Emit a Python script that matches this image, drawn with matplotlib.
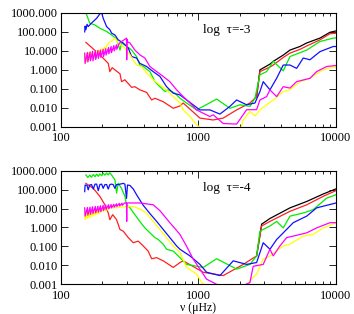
import matplotlib
matplotlib.use('Agg')
import matplotlib.pyplot as plt
from matplotlib.ticker import FixedLocator, FixedFormatter, LogLocator, NullFormatter

# ---- log tau = -3 (top panel) ----
f_r3 = [152, 192, 221, 227, 236, 269, 276, 292, 327, 345, 375, 420, 457, 483, 555, 656, 734, 775,
        1025, 1281, 1515, 1896, 2369, 2650, 2801, 3311, 3499, 4138, 4630, 5473, 6124, 7648, 9045, 10000]
red_3 = [28, 6.2, 2.2, 0.81, 1.3, 0.62, 0.24, 0.30, 0.12, 0.13, 0.089, 0.065, 0.026, 0.032, 0.021, 0.0095, 0.0126, 0.018,
         0.0029, 0.0023, 0.0029, 0.0078, 0.018, 0.039, 0.81, 1.4, 1.8, 4.5, 7.6, 12, 18, 38, 80, 85]

f_k3 = [2650, 2801, 3311, 3499, 4138, 4630, 5473, 6124, 7648, 9045, 10000]
black_3 = [0.039, 1.0, 2.0, 2.8, 6.0, 11, 17, 26, 47, 95, 112]

f_g3 = [149, 162, 177, 192, 215, 234, 254, 269, 276, 300, 327, 355, 375, 397, 444, 483, 510, 571, 603, 675,
        734, 821, 970, 1084, 1357, 1695, 2004, 2369, 2576, 2801, 3133, 3499, 4138, 4630, 6124, 7648, 9559, 10000]
green_3 = [1500, 290, 230, 155, 105, 69, 42, 11, 26, 18, 11, 5.0, 1.8, 1.5, 0.81, 0.24, 0.16, 0.072, 0.089, 0.059,
           0.032, 0.018, 0.0078, 0.012, 0.029, 0.0095, 0.0145, 0.012, 0.032, 0.55, 0.81, 2.8, 0.89, 5.0, 11, 31, 47, 48]

f_b3 = [149, 150, 152, 155, 158, 167, 182, 192, 198, 203, 215, 227, 234, 247, 261, 284, 309, 327, 355, 375,
        420, 469, 525, 587, 656, 734, 821, 1025, 1212, 1434, 1695, 1896, 2242, 2576, 2801, 2960, 3311, 3705, 4138, 4630,
        5179, 5784, 6471, 7648, 9559, 10000]
blue_3 = [100, 200, 130, 250, 190, 290, 520, 890, 1000, 520, 190, 130, 85, 69, 38, 26, 14, 5.0, 4.2, 2.2,
          1.5, 0.81, 0.45, 0.13, 0.059, 0.048, 0.026, 0.0078, 0.0078, 0.0047, 0.012, 0.026, 0.0145, 0.018, 0.072, 0.24, 0.089, 0.36, 1.8, 1.8,
          1.2, 4.2, 3.4, 9.1, 17, 17]

f_y3 = [149, 150, 154, 155, 159, 160, 164, 165, 170, 171, 176, 177, 182, 183, 188, 189, 195, 196, 202, 203,
        209, 210, 217, 226, 240, 247, 261, 284, 318, 355, 386, 420, 469, 525, 587, 656, 734, 775, 868, 970,
        1055, 1281, 1695, 2004, 2118, 2369, 2576, 2801, 3133, 3499, 4138, 4630, 5473, 6471, 7648, 8557, 10000]
yellow_3 = [7.0, 2.2, 7.5, 2.8, 8.0, 3.2, 8.5, 3.5, 9.0, 4.0, 9.5, 4.5, 10, 5.5, 11, 6.5, 12, 8.0, 14, 9.5,
            16, 12, 21, 28, 38, 47, 26, 17, 6.2, 1.8, 1.5, 0.68, 0.30, 0.16, 0.089, 0.039, 0.018, 0.0078, 0.0035, 0.0013,
            0.0008, 0.0003, 0.0002, 0.0006, 0.0023, 0.0065, 0.0038, 0.0078, 0.0145, 0.026, 0.072, 0.089, 0.24, 0.36, 0.81, 1.2, 1.4]

f_m3 = [149, 150, 156, 157, 163, 164, 170, 171, 178, 179, 186, 187, 194, 195, 203, 204, 212, 213, 222, 223,
        232, 233, 243, 244, 254, 255, 266, 276, 288, 300, 301, 303, 305, 318, 345, 375, 408, 444, 497, 555,
        620, 694, 775, 868, 970, 1084, 1212, 1281, 1515, 1896, 2242, 2650, 2801, 3133, 3311, 3705, 4138, 4630, 5179, 6471,
        7237, 8557, 10000]
magenta_3 = [7.6, 2.2, 8.2, 2.6, 8.8, 3.0, 9.5, 3.0, 10, 3.5, 10.5, 4.0, 11, 4.5, 12, 5.0, 13, 6.0, 15, 7.0,
             17, 8.0, 19, 10, 21, 12, 25, 31, 38, 47, 3.4, 40, 30, 26, 11, 6.2, 4.2, 1.5, 0.81, 0.45,
             0.24, 0.089, 0.039, 0.018, 0.0078, 0.0052, 0.0035, 0.0043, 0.0015, 0.0014, 0.008, 0.008, 0.026, 0.039, 0.089, 0.039, 0.13, 0.11, 0.24, 0.36,
             0.81, 1.5, 1.7]

# ---- log tau = -4 (bottom panel) ----
f_r4 = [152, 172, 192, 209, 221, 227, 238, 254, 269, 284, 309, 336, 365, 397, 431, 457, 497, 555, 656, 734,
        775, 1084, 1515, 2118, 2650, 2882, 3311, 4630, 6124, 8083, 10000]
red_4 = [220, 120, 45, 16, 5.9, 2.6, 4.8, 2.6, 0.78, 0.64, 0.29, 0.155, 0.19, 0.105, 0.056, 0.022, 0.025, 0.017, 0.0076, 0.0138,
         0.017, 0.0042, 0.0028, 0.011, 0.031, 1.2, 2.1, 7.2, 16, 45, 91]

f_k4 = [2650, 2882, 3311, 4630, 6124, 8083, 10000]
black_4 = [0.031, 1.5, 3.0, 11, 24, 60, 112]

f_g4 = [152, 157, 162, 167, 172, 177, 182, 187, 192, 198, 203, 209, 215, 221, 227, 234, 247, 254, 261, 276,
        292, 300, 318, 345, 375, 408, 444, 483, 510, 555, 587, 656, 734, 821, 1084, 1357, 1896, 2369, 2650, 2801,
        3311, 3705, 4138, 4630, 5784, 6839, 8557, 10000]
green_4 = [620, 450, 600, 470, 650, 500, 680, 520, 700, 560, 760, 600, 780, 620, 800, 600, 340, 67, 220, 120,
           45, 16, 11, 4.8, 2.1, 0.95, 0.52, 0.29, 0.23, 0.13, 0.07, 0.056, 0.025, 0.011, 0.0076, 0.022, 0.0062, 0.011, 0.031, 0.64,
           1.2, 2.1, 0.95, 4.0, 5.9, 8.9, 36, 55]

f_b4 = [149, 150, 155, 158, 162, 167, 172, 177, 182, 187, 192, 198, 203, 209, 215, 221, 227, 234, 240, 247,
        254, 261, 269, 284, 292, 300, 305, 318, 336, 355, 397, 444, 497, 555, 620, 694, 734, 868, 1025, 1147,
        1434, 1791, 2242, 2650, 2960, 3311, 3705, 4138, 4892, 6124, 7237, 10000]
blue_4 = [80, 180, 170, 100, 180, 190, 110, 200, 200, 90, 190, 200, 120, 190, 190, 110, 190, 200, 190, 120,
          190, 190, 200, 220, 200, 35, 180, 170, 110, 55, 15, 5.5, 2.1, 0.78, 0.29, 0.105, 0.07, 0.031, 0.011, 0.0042,
          0.0028, 0.017, 0.011, 0.0138, 0.155, 0.07, 0.23, 0.52, 1.8, 4.0, 11, 20]

f_y4 = [149, 150, 154, 155, 159, 160, 164, 165, 170, 171, 176, 177, 182, 183, 188, 189, 195, 196, 202, 203,
        209, 210, 217, 218, 226, 240, 300, 336, 375, 420, 469, 525, 587, 656, 734, 821, 970, 1055, 1281, 1791,
        2242, 2369, 2650, 2960, 3311, 4138, 4630, 5784, 6839, 8083, 10000]
yellow_4 = [7.2, 2.6, 7.5, 3.0, 7.8, 3.2, 8.0, 3.5, 8.3, 4.0, 8.6, 4.5, 8.9, 5.0, 9.2, 5.5, 9.5, 6.5, 10, 7.0,
            10.5, 8.0, 11, 8.5, 11, 11, 13, 13, 9.5, 5.9, 2.1, 0.78, 0.29, 0.105, 0.047, 0.0076, 0.0034, 0.0012, 0.0004, 0.0003,
            0.0006, 0.0015, 0.0034, 0.021, 0.031, 0.105, 0.13, 0.35, 0.43, 0.95, 1.8]

f_m4 = [149, 150, 156, 157, 163, 164, 170, 171, 178, 179, 186, 187, 194, 195, 203, 204, 212, 213, 222, 223,
        232, 233, 243, 244, 254, 255, 266, 267, 278, 279, 290, 300, 301, 302, 375, 420, 469, 525, 620, 734,
        821, 916, 1025, 1147, 1281, 1700, 2369, 2503, 2960, 3311, 3499, 3915, 4381, 4892, 6124, 7237, 9045, 10000]
magenta_4 = [11, 4.0, 11.5, 4.5, 12, 5.0, 12.5, 5.5, 13, 6.0, 13.5, 6.5, 14, 7.0, 15, 8.0, 15.5, 9.0, 16, 10,
             16.5, 11, 17, 12, 18, 13, 19, 14, 19.5, 15, 20, 20, 2.1, 20, 20, 18, 16, 7.8, 1.8, 0.43,
             0.1, 0.021, 0.0062, 0.0018, 0.0012, 0.0004, 0.0012, 0.0087, 0.011, 0.07, 0.031, 0.105, 0.29, 0.35, 0.52, 0.95, 1.8, 1.8]

ytick_vals = [0.001, 0.01, 0.1, 1, 10, 100, 1000]
ytick_labels = ['0.001', '0.010', '0.100', '1.000', '10.000', '100.000', '1000.000']
xtick_vals = [100, 1000, 10000]
xtick_labels = ['100', '1000', '10000']

tick_font = 'Liberation Serif'
lw = 0.9

fig = plt.figure(figsize=(3.54, 3.14), dpi=100)
ax1 = fig.add_axes([0.172, 0.596, 0.777, 0.363])
ax2 = fig.add_axes([0.172, 0.0955, 0.777, 0.36])

panels = [
    (ax1, 'log  \u03c4=-3',
     [(f_k3, black_3, 'black'), (f_r3, red_3, '#ff2020'), (f_g3, green_3, '#00ee00'),
      (f_b3, blue_3, '#1010ff'), (f_y3, yellow_3, '#ffff00'), (f_m3, magenta_3, '#ff00ff')]),
    (ax2, 'log  \u03c4=-4',
     [(f_k4, black_4, 'black'), (f_r4, red_4, '#ff2020'), (f_g4, green_4, '#00ee00'),
      (f_b4, blue_4, '#1010ff'), (f_y4, yellow_4, '#ffff00'), (f_m4, magenta_4, '#ff00ff')]),
]

for ax, title, curves in panels:
    for f, v, c in curves:
        ax.plot(f, v, color=c, lw=lw)
    ax.set_xscale('log')
    ax.set_yscale('log')
    ax.set_xlim(100, 10000)
    ax.set_ylim(0.001, 1000)
    ax.xaxis.set_major_locator(FixedLocator(xtick_vals))
    ax.xaxis.set_major_formatter(FixedFormatter(xtick_labels))
    ax.xaxis.set_minor_locator(LogLocator(base=10, subs=range(2, 10)))
    ax.xaxis.set_minor_formatter(NullFormatter())
    ax.yaxis.set_major_locator(FixedLocator(ytick_vals))
    ax.yaxis.set_major_formatter(FixedFormatter(ytick_labels))
    ax.yaxis.set_minor_locator(LogLocator(base=10, subs=range(2, 10)))
    ax.yaxis.set_minor_formatter(NullFormatter())
    ax.tick_params(which='both', direction='in', top=True, right=True, width=0.6)
    ax.tick_params(which='major', length=5)
    ax.tick_params(which='minor', length=2.5)
    ax.tick_params(axis='x', pad=4)
    ax.tick_params(axis='y', pad=2)
    for lab in ax.get_xticklabels() + ax.get_yticklabels():
        lab.set_fontfamily(tick_font)
        lab.set_fontsize(9)
    for s in ax.spines.values():
        s.set_linewidth(0.8)
    ax.text(1080, 120, title, fontsize=9.5, family='Liberation Serif', va='center')

ax2.set_xlabel('\u03bd (\u03bcHz)', fontsize=8.5, family='Liberation Serif', labelpad=0)

fig.savefig('out.png', dpi=100)
